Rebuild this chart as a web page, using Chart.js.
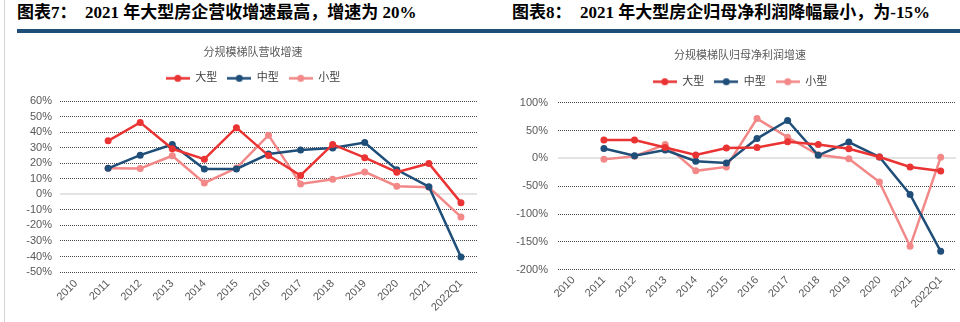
<!DOCTYPE html>
<html><head><meta charset="utf-8">
<script src="https://cdn.jsdelivr.net/npm/chart.js@4"></script>
<style>
html,body{margin:0;padding:0;width:960px;height:322px;overflow:hidden;background:#fff;}
.h{position:absolute;top:3px;font-weight:bold;font-size:17px;font-family:"Liberation Serif","Noto Sans CJK SC",serif;color:#000;white-space:pre;line-height:20px;}
.rule{position:absolute;left:17px;top:29px;width:943px;height:4px;background:#1f4e79;}
.vline{position:absolute;left:4px;top:0;width:1px;height:322px;background:#d4d4d4;}
canvas{position:absolute;}
</style></head><body>
<div class="vline"></div>
<div class="h" style="left:17px">图表7：  2021 年大型房企营收增速最高，增速为 20%</div>
<div class="h" style="left:512px">图表8：  2021 年大型房企归母净利润降幅最小，为-15%</div>
<div class="rule"></div>
<canvas id="c1" width="506" height="282" style="left:0;top:40px"></canvas>
<canvas id="c2" width="460" height="282" style="left:510px;top:40px"></canvas>
<script>
const categories = ['2010','2011','2012','2013','2014','2015','2016','2017','2018','2019','2020','2021','2022Q1'];
const seriesNames = ['大型','中型','小型'];
// 营收增速 (%)
const revLarge = [null,34.5,46.4,29.4,22.7,43,25,12.2,32.2,23.7,14.3,19.9,-5.3];
const revMid   = [null,16.8,25.3,32.2,16.4,16.4,26,28.6,29.9,33.4,15.9,5,-40.4];
const revSmall = [null,16.8,16.7,24.9,7.4,17,38.2,6.7,9.7,14.5,5.3,4.6,-14.5];
// 归母净利润增速 (%)
const profLarge = [null,33,33,19.5,6,18.5,19.7,30,25,17.3,2.4,-15.6,-22.5];
const profMid   = [null,17.6,4.8,15,-5.2,-8.5,35.5,68,5.4,29.3,2.4,-64.7,-167];
const profSmall = [null,-1.8,3.8,24.8,-22.4,-15.3,71.5,38,6.5,-0.7,-42.6,-158,1.8];
// y 轴刻度 [min, max, step]
const revYTicks = [-50, 60, 10];
const profYTicks = [-200, 100, 50];
const chartTitles = ['分规模梯队营收增速','分规模梯队归母净利润增速'];

const colors = ['rgb(234,51,51)','rgb(31,78,121)','rgb(242,136,136)'];
const FONT = '"Liberation Sans","Noto Sans CJK SC",sans-serif';

function legendImg(color){
  const c = document.createElement('canvas'); c.width = 24; c.height = 9;
  const x = c.getContext('2d');
  x.strokeStyle = color; x.lineWidth = 2.5;
  x.beginPath(); x.moveTo(0,4.5); x.lineTo(24,4.5); x.stroke();
  x.fillStyle = color; x.beginPath(); x.arc(12,4.5,3.5,0,Math.PI*2); x.fill();
  return c;
}
const legendImgs = colors.map(legendImg);

const zeroLine = {
  id: 'zeroLine',
  beforeDatasetsDraw(chart){
    const ys = chart.scales.y, a = chart.chartArea, ctx = chart.ctx;
    const p = Math.round(ys.getPixelForValue(0));
    ctx.save(); ctx.strokeStyle = '#e4e4e4'; ctx.lineWidth = 2;
    ctx.beginPath(); ctx.moveTo(a.left, p); ctx.lineTo(a.right, p); ctx.stroke(); ctx.restore();
  }
};

function makeChart(id, title, data, yTicks, g){
  const datasets = data.map((vals,i)=>({
    label: seriesNames[i], data: vals, borderColor: colors[i], backgroundColor: colors[i],
    borderWidth: 2.5, pointRadius: 3.5, pointHoverRadius: 3.5, pointBorderWidth: 0, tension: 0, spanGaps: false
  }));
  return new Chart(document.getElementById(id), {
    type: 'line',
    data: { labels: categories, datasets },
    plugins: [zeroLine],
    options: {
      responsive: false, animation: false, devicePixelRatio: 1,
      layout: { padding: 0 },
      plugins: {
        title: { display: true, text: title, color: '#595959', font: { family: FONT, size: 11, weight: 'normal', lineHeight: 1.2 }, padding: { top: g.tpt, bottom: g.tpb } },
        legend: { display: true, labels: { usePointStyle: true, pointStyleWidth: 24, padding: 10, color: '#404040', font: { family: FONT, size: 11 },
          generateLabels: (ch) => ch.data.datasets.map((d,i)=>({ text: d.label, pointStyle: legendImgs[i], fillStyle: colors[i], strokeStyle: colors[i], lineWidth: 0, hidden: false, datasetIndex: i, fontColor: '#404040' })) } },
        subtitle: { display: true, text: ' ', color: 'rgba(0,0,0,0)', weight: 500, font: { size: 1, lineHeight: 1 }, padding: { top: g.spacer - 1, bottom: 0 } },
        tooltip: { enabled: false }
      },
      scales: {
        x: { offset: true, grid: { display: false }, border: { display: false },
          ticks: { autoSkip: false, minRotation: 45, maxRotation: 45, padding: g.xpad, color: '#595959', font: { family: FONT, size: 11 } },
          afterFit: s => { s.height = g.xh; } },
        y: { min: yTicks[0], max: yTicks[1], border: { display: false, dash: [1, 1] },
          grid: { drawTicks: false, color: c => (c.tick && c.tick.value === 0) ? 'rgba(0,0,0,0)' : '#4a4a4a', lineWidth: 1 },
          ticks: { autoSkip: false, stepSize: yTicks[2], padding: g.ypad, color: '#595959', font: { family: FONT, size: 11 }, callback: v => v + '%' },
          afterFit: s => { s.width = g.yw; } },
        yR: { position: 'right', display: true, grid: { display: false }, border: { display: false }, ticks: { display: false },
          afterFit: s => { s.width = g.rw; } }
      }
    }
  });
}

makeChart('c1', chartTitles[0], [revLarge, revMid, revSmall], revYTicks, { tpt: 6.4, tpb: 3.2, spacer: 7.5, xh: 50, yw: 60, ypad: 8, rw: 29, xpad: -3 });
makeChart('c2', chartTitles[1], [profLarge, profMid, profSmall], profYTicks, { tpt: 9.4, tpb: 3.6, spacer: 5.5, xh: 52.3, yw: 48, ypad: 10, rw: 14, xpad: -4 });
</script>
</body></html>
